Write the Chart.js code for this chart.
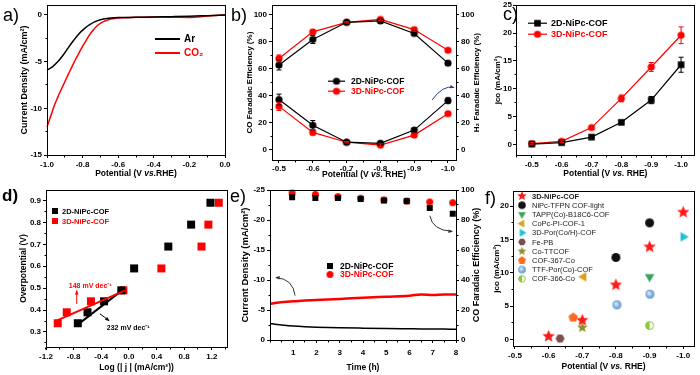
<!DOCTYPE html>
<html>
<head>
<meta charset="utf-8">
<script src="https://cdn.jsdelivr.net/npm/chart.js@4.4.0/dist/chart.umd.min.js"></script>
<style>
  body { margin: 0; background: #fff; }
  #wrap { position: relative; width: 700px; height: 375px; background: #fff; overflow: hidden; }
  canvas { position: absolute; }
  .lab { position: absolute; font: 18px "Liberation Sans", Arial, sans-serif; line-height: 18px; color: #000; }
</style>
</head>
<body>
<div id="wrap">
  <canvas id="ca" width="232" height="190" style="left:0;top:0"></canvas>
  <canvas id="cb" width="258" height="190" style="left:232px;top:0"></canvas>
  <canvas id="cc" width="210" height="190" style="left:490px;top:0"></canvas>
  <canvas id="cd" width="232" height="190" style="left:0;top:185px"></canvas>
  <canvas id="ce" width="258" height="190" style="left:232px;top:185px"></canvas>
  <canvas id="cf" width="210" height="190" style="left:490px;top:185px"></canvas>
  <span class="lab" style="left:3px;top:6px">a)</span>
  <span class="lab" style="left:231px;top:6px">b)</span>
  <span class="lab" style="left:503px;top:5px">c)</span>
  <span class="lab" style="left:2px;top:187px;font-weight:bold;font-size:17px">d)</span>
  <span class="lab" style="left:230px;top:187px">e)</span>
  <span class="lab" style="left:485px;top:189px">f)</span>
</div>
<script>
const FONT = '"Liberation Sans", Arial, Helvetica, sans-serif';
const RED = '#ff0000';
const BLACK = '#000000';

// a) LSV curves
const lsvArV = [-1.0, -0.97, -0.94, -0.91, -0.88, -0.85, -0.82, -0.79, -0.76, -0.73, -0.70, -0.67, -0.64, -0.60, -0.50, -0.40, -0.30, -0.20, -0.10, 0.0];
const lsvArJ = [-5.91, -5.56, -5.02, -4.31, -3.49, -2.71, -2.00, -1.46, -1.03, -0.71, -0.50, -0.39, -0.32, -0.28, -0.25, -0.21, -0.18, -0.14, -0.07, 0.0];
const lsvCo2V = [-1.0, -0.98, -0.96, -0.94, -0.92, -0.90, -0.88, -0.86, -0.84, -0.82, -0.80, -0.78, -0.76, -0.74, -0.72, -0.70, -0.68, -0.66, -0.64, -0.60, -0.50, -0.40, -0.30, -0.20, -0.10, 0.0];
const lsvCo2J = [-11.97, -10.9, -9.76, -8.83, -7.98, -7.16, -6.34, -5.56, -4.77, -4.06, -3.35, -2.71, -2.10, -1.60, -1.18, -0.89, -0.68, -0.53, -0.43, -0.32, -0.25, -0.22, -0.24, -0.26, -0.12, 0.0];
const ticksAx = [-1.0, -0.8, -0.6, -0.4, -0.2, 0.0];
const ticksAy = [0, -5, -10, -15];

// b) Faradaic efficiency
const potB = [-0.5, -0.6, -0.7, -0.8, -0.9, -1.0];
const coFE2D = [62.7, 81.7, 94.4, 95.4, 86.1, 64.1];
const coFE3D = [67.6, 87.3, 94.4, 96.6, 89.0, 73.7];
const h2FE2D = [37.1, 18.0, 5.4, 4.6, 14.4, 36.3];
const h2FE3D = [32.0, 12.7, 5.4, 3.2, 10.7, 26.6];
const coErr2D = [3.7, 3.0, 1.0, 1.5, 1.5, 1.5];
const coErr3D = [2.5, 1.5, 0.5, 1.0, 1.5, 1.0];
const h2Err2D = [4.0, 3.5, 1.0, 1.5, 1.5, 2.0];
const h2Err3D = [3.0, 2.0, 0.5, 1.0, 1.5, 1.0];
const ticksFE = [0, 20, 40, 60, 80, 100];

// c) partial current density
const potC = [-0.5, -0.6, -0.7, -0.8, -0.9, -1.0];
const jco2D = [0.05, 0.3, 1.3, 3.95, 7.95, 14.3];
const jco3D = [0.12, 0.54, 3.0, 8.25, 13.9, 19.6];
const jcoErr2D = [0.2, 0.2, 0.3, 0.3, 0.65, 1.35];
const jcoErr3D = [0.2, 0.2, 0.3, 0.6, 0.8, 1.5];
const ticksCy = [0, 5, 10, 15, 20, 25];

// d) Tafel
const logJ2D = [-0.74, -0.60, -0.36, -0.11, 0.075, 0.57, 0.90, 1.18];
const logJ3D = [-1.03, -0.90, -0.55, -0.08, 0.47, 1.05, 1.15, 1.30];
const etaD = [0.34, 0.39, 0.44, 0.49, 0.59, 0.69, 0.79, 0.89];
const fit2DX = [-0.755, -0.10], fit2DY = [0.33, 0.49];
const fit3DX = [-1.045, -0.055], fit3DY = [0.352, 0.49];
const ticksDx = [-1.2, -0.8, -0.4, 0.0, 0.4, 0.8, 1.2];
const ticksDy = [0.3, 0.4, 0.5, 0.6, 0.7, 0.8, 0.9];

// e) stability
const timeLine = [0, 0.3, 0.6, 1, 1.5, 2, 3, 4, 5, 6, 6.5, 7, 7.5, 8];
const cd2D = [-2.75, -2.58, -2.46, -2.33, -2.22, -2.14, -2.04, -1.97, -1.91, -1.87, -1.85, -1.84, -1.82, -1.80];
const cd3D = [-6.0, -6.2, -6.35, -6.45, -6.57, -6.67, -6.84, -7.06, -7.22, -7.38, -7.6, -7.5, -7.6, -7.6];
const timeFE = [0.95, 1.95, 2.92, 3.9, 4.9, 5.88, 6.87, 7.86];
const fe2D = [95.2, 94.7, 94.7, 94.0, 93.0, 92.6, 88.0, 84.2];
const fe3D = [98.0, 97.0, 95.6, 94.5, 93.4, 92.6, 92.0, 91.5];
const ticksEx = [1, 2, 3, 4, 5, 6, 7, 8];
const ticksEy = [-25, -20, -15, -10, -5, 0];

// f) comparison
const fLabels = ['3D-NiPc-COF', 'NiPc-TFPN COF-light', 'TAPP(Co)-B18C6-COF', 'CoPc-PI-COF-1', '3D-Por(Co/H)-COF', 'Fe-PB', 'Co-TTCOF', 'COF-367-Co', 'TTF-Por(Co)-COF', 'COF-366-Co'];
const fNiPcV = [-0.6, -0.7, -0.8, -0.9, -1.0], fNiPcJ = [0.48, 2.9, 8.2, 13.9, 19.1];
const fTfpnV = [-0.8, -0.9], fTfpnJ = [12.3, 17.5];
const fTappV = [-0.9], fTappJ = [9.4];
const fCopcV = [-0.704], fCopcJ = [9.4];
const fPorV = [-1.0], fPorJ = [15.4];
const fFepbV = [-0.634], fFepbJ = [0.15];
const fTtcofV = [-0.7], fTtcofJ = [1.8];
const f367V = [-0.673], f367J = [3.3];
const fTtfV = [-0.803, -0.901], fTtfJ = [5.2, 6.8];
const f366V = [-0.9], f366J = [2.1];
const ticksFx = [-0.5, -0.6, -0.7, -0.8, -0.9, -1.0];
const ticksFy = [0, 5, 10, 15, 20];

const pts = (xs, ys) => xs.map((x, i) => ({ x, y: ys[i] }));
const f1 = v => v.toFixed(1);
const f0 = v => String(v);

// small canvases used as point styles
function marker(shape, color, r) {
  const s = Math.ceil(2 * r + 2), c = document.createElement('canvas');
  c.width = c.height = s;
  const g = c.getContext('2d');
  g.translate(s / 2, s / 2);
  g.fillStyle = color; g.strokeStyle = color; g.lineWidth = 1;
  const poly = (n, rot, inner) => {
    const k = inner ? 2 * n : n;
    g.beginPath();
    for (let i = 0; i < k; i++) {
      const rr = inner && i % 2 ? inner : r, t = rot + i * Math.PI * 2 / k;
      g.lineTo(rr * Math.cos(t), rr * Math.sin(t));
    }
    g.closePath(); g.fill();
  };
  if (shape === 'circle') { g.beginPath(); g.arc(0, 0, r, 0, 2 * Math.PI); g.fill(); }
  else if (shape === 'square') g.fillRect(-r, -r, 2 * r, 2 * r);
  else if (shape === 'star') poly(5, -Math.PI / 2, r * 0.45);
  else if (shape === 'pentagon') poly(5, -Math.PI / 2);
  else if (shape === 'hexagon') poly(6, 0);
  else if (shape === 'triDown') poly(3, Math.PI / 2);
  else if (shape === 'triLeft') poly(3, Math.PI);
  else if (shape === 'triRight') poly(3, 0);
  else if (shape === 'ball') {
    const gr = g.createRadialGradient(-r * 0.3, -r * 0.3, 0, 0, 0, r);
    gr.addColorStop(0, '#eef5fd'); gr.addColorStop(1, color);
    g.fillStyle = gr; g.beginPath(); g.arc(0, 0, r, 0, 2 * Math.PI); g.fill();
  } else if (shape === 'half') {
    g.fillStyle = '#fff'; g.beginPath(); g.arc(0, 0, r - 0.5, 0, 2 * Math.PI); g.fill();
    g.fillStyle = color; g.beginPath(); g.arc(0, 0, r - 0.5, Math.PI / 2, Math.PI * 1.5); g.fill();
    g.beginPath(); g.arc(0, 0, r - 0.5, 0, 2 * Math.PI); g.stroke();
  }
  return c;
}

const mCircB = marker('circle', BLACK, 3.6), mCircR = marker('circle', RED, 3.6);
const mSqB = marker('square', BLACK, 3.3), mSqR = marker('square', RED, 3.3);
const mSqBd = marker('square', BLACK, 4), mSqRd = marker('square', RED, 4);
const mSqBs = marker('square', BLACK, 3), mSqRs = marker('square', RED, 3);
const mSqBe = marker('square', BLACK, 3), mCircRe = marker('circle', RED, 3.5);
const fMarkers = [
  marker('star', '#ff1a1a', 6.5), marker('circle', '#111111', 4.5), marker('triDown', '#3aa55d', 5.5),
  marker('triLeft', '#d9a21b', 5.5), marker('triRight', '#19c3d6', 5.5), marker('hexagon', '#7d4e4e', 4.5),
  marker('star', '#8f8f2b', 5.5), marker('pentagon', '#ff6b1a', 5), marker('ball', '#4f8fd0', 4.5),
  marker('half', '#8cc63f', 4.5)
];
const fLegendMarkers = [
  marker('star', '#ff1a1a', 5), marker('circle', '#111111', 3.8), marker('triDown', '#3aa55d', 4.5),
  marker('triLeft', '#d9a21b', 4.5), marker('triRight', '#19c3d6', 4.5), marker('hexagon', '#7d4e4e', 3.8),
  marker('star', '#8f8f2b', 4.5), marker('pentagon', '#ff6b1a', 4.2), marker('ball', '#4f8fd0', 3.8),
  marker('half', '#8cc63f', 3.8)
];

function fit(size) {
  return s => {
    if (s.isHorizontal()) s.height = size; else s.width = size;
    s.paddingLeft = s.paddingRight = s.paddingTop = s.paddingBottom = 0;
  };
}

function axis(min, max, ticks, fmt, size, extra, pad) {
  return Object.assign({
    type: 'linear', min, max,
    afterBuildTicks: s => { s.ticks = ticks.map(v => ({ value: v })); },
    afterFit: fit(size),
    grid: { drawOnChartArea: false, drawTicks: true, tickLength: 3, color: '#000', lineWidth: 1 },
    border: { display: false },
    ticks: { color: '#000', font: { family: FONT, size: 8, weight: 'bold' }, padding: pad == null ? 2 : pad, maxRotation: 0, autoSkip: false, callback: fmt }
  }, extra);
}

function lineDs(xs, ys, color, w, extra) {
  return Object.assign({ data: pts(xs, ys), showLine: true, borderColor: color, backgroundColor: color, borderWidth: w, pointRadius: 0, tension: 0, clip: false }, extra);
}
function markDs(xs, ys, m, color, extra) {
  return Object.assign({ data: pts(xs, ys), pointStyle: m, pointRadius: 4, borderColor: color, backgroundColor: color, clip: false }, extra);
}

function rich(ctx, text, size, weight) {
  const parts = text.split('_');
  const fonts = parts.map((p, i) => (i % 2 ? 'italic ' : '') + (weight || 'bold') + ' ' + size + 'px ' + FONT);
  let w = 0;
  parts.forEach((p, i) => { ctx.font = fonts[i]; w += ctx.measureText(p).width; });
  let x = -w / 2;
  ctx.textBaseline = 'middle'; ctx.textAlign = 'left';
  parts.forEach((p, i) => { ctx.font = fonts[i]; ctx.fillText(p, x, 0); x += ctx.measureText(p).width; });
}

function arrow(ctx, chart, ys, p0, c, p1, color, lw) {
  const X = v => chart.scales.x.getPixelForValue(v), Y = v => chart.scales[ys].getPixelForValue(v);
  const x0 = X(p0[0]), y0 = Y(p0[1]), cx = X(c[0]), cy = Y(c[1]), x1 = X(p1[0]), y1 = Y(p1[1]);
  ctx.strokeStyle = color; ctx.fillStyle = color; ctx.lineWidth = lw;
  ctx.beginPath(); ctx.moveTo(x0, y0); ctx.quadraticCurveTo(cx, cy, x1, y1); ctx.stroke();
  const a = Math.atan2(y1 - cy, x1 - cx), h = 4;
  ctx.beginPath();
  ctx.moveTo(x1 + Math.cos(a) * 1, y1 + Math.sin(a) * 1);
  ctx.lineTo(x1 - h * Math.cos(a - 0.45), y1 - h * Math.sin(a - 0.45));
  ctx.lineTo(x1 - h * Math.cos(a + 0.45), y1 - h * Math.sin(a + 0.45));
  ctx.closePath(); ctx.fill();
}

const errorBars = {
  id: 'errorBars',
  afterDatasetsDraw(chart) {
    const ctx = chart.ctx;
    chart.data.datasets.forEach((ds, i) => {
      if (!ds.errors) return;
      const meta = chart.getDatasetMeta(i), ys = chart.scales[meta.yAxisID];
      ctx.save();
      ctx.strokeStyle = ds.borderColor; ctx.lineWidth = 1;
      meta.data.forEach((p, j) => {
        const e = ds.errors[j], v = ds.data[j].y;
        const y1 = ys.getPixelForValue(v + e), y2 = ys.getPixelForValue(v - e);
        ctx.beginPath();
        ctx.moveTo(p.x, y1); ctx.lineTo(p.x, y2);
        ctx.moveTo(p.x - 2.5, y1); ctx.lineTo(p.x + 2.5, y1);
        ctx.moveTo(p.x - 2.5, y2); ctx.lineTo(p.x + 2.5, y2);
        ctx.stroke();
      });
      ctx.restore();
    });
  }
};

// frame, minor ticks, axis titles, legend and notes
function deco(cfg) {
  return {
    id: 'deco',
    afterDraw(chart) {
      const ctx = chart.ctx, a = chart.chartArea;
      const px = v => Math.round(v - 0.5) + 0.5;
      ctx.save();
      ctx.strokeStyle = '#000'; ctx.lineWidth = 1;
      ctx.strokeRect(px(a.left), px(a.top), px(a.right) - px(a.left), px(a.bottom) - px(a.top));
      (cfg.minor || []).forEach(([id, step]) => {
        const s = chart.scales[id];
        const lo = Math.min(s.min, s.max), hi = Math.max(s.min, s.max);
        for (let k = Math.ceil(lo / step - 1e-6); k * step <= hi + 1e-9; k++) {
          const p = px(s.getPixelForValue(k * step));
          ctx.beginPath();
          if (s.isHorizontal()) { ctx.moveTo(p, px(a.bottom)); ctx.lineTo(p, px(a.bottom) + 2); }
          else if (s.position === 'right') { ctx.moveTo(px(a.right), p); ctx.lineTo(px(a.right) + 2, p); }
          else { ctx.moveTo(px(a.left), p); ctx.lineTo(px(a.left) - 2, p); }
          ctx.stroke();
        }
      });
      ctx.fillStyle = '#000';
      (cfg.titles || []).forEach(t => {
        ctx.save();
        if (t.pos === 'bottom') ctx.translate((a.left + a.right) / 2, a.bottom + t.off);
        else {
          ctx.translate(t.pos === 'left' ? a.left - t.off : a.right + t.off, (a.top + a.bottom) / 2);
          ctx.rotate(-Math.PI / 2);
        }
        rich(ctx, t.text, t.size);
        ctx.restore();
      });
      const L = cfg.legend;
      if (L) {
        L.items.forEach((it, i) => {
          const x0 = a.left + L.x, y0 = a.top + L.y + i * L.dy;
          if (it.line) {
            ctx.strokeStyle = it.color; ctx.lineWidth = L.lw || 1.2;
            ctx.beginPath(); ctx.moveTo(x0, y0); ctx.lineTo(x0 + L.len, y0); ctx.stroke();
          }
          if (it.marker) ctx.drawImage(it.marker, x0 + L.len / 2 - it.marker.width / 2, y0 - it.marker.height / 2);
          ctx.fillStyle = it.text || it.color;
          ctx.font = (it.bold === false ? 'normal ' : 'bold ') + L.size + 'px ' + FONT;
          ctx.textBaseline = 'middle'; ctx.textAlign = 'left';
          ctx.fillText(it.label, x0 + L.len + L.gap, y0 + 0.5);
        });
      }
      if (cfg.notes) cfg.notes(ctx, chart);
      ctx.restore();
    }
  };
}

function make(id, datasets, scales, cfg) {
  return new Chart(document.getElementById(id), {
    type: 'scatter',
    data: { datasets },
    options: {
      responsive: false, animation: false, devicePixelRatio: 1,
      layout: { padding: cfg.pad },
      plugins: { legend: { display: false }, tooltip: { enabled: false } },
      scales
    },
    plugins: [errorBars, deco(cfg)]
  });
}

// a)
make('ca', [
  lineDs(lsvArV, lsvArJ, BLACK, 1.5, { cubicInterpolationMode: 'monotone' }),
  lineDs(lsvCo2V, lsvCo2J, RED, 1.5, { cubicInterpolationMode: 'monotone' })
], {
  x: axis(-1.0, 0.0, ticksAx, f1, 35, { position: 'bottom' }),
  y: axis(-15, 1.07, ticksAy, f0, 47, { position: 'left' })
}, {
  pad: { top: 5, right: 7, left: 0, bottom: 0 },
  minor: [['x', 0.1], ['y', 2.5]],
  titles: [
    { pos: 'bottom', off: 19, size: 8.5, text: 'Potential (V _vs._RHE)' },
    { pos: 'left', off: 22, size: 9, text: 'Current Density (mA/cm²)' }
  ],
  legend: { x: 108, y: 34, dy: 14, len: 25, gap: 4, size: 10, lw: 2, items: [
    { label: 'Ar', color: BLACK, line: true },
    { label: 'CO₂', color: RED, line: true }
  ] }
});

// b)
make('cb', [
  markDs(potB, coFE2D, mCircB, BLACK, { showLine: true, borderWidth: 1.2, errors: coErr2D }),
  markDs(potB, h2FE2D, mCircB, BLACK, { showLine: true, borderWidth: 1.2, errors: h2Err2D }),
  markDs(potB, coFE3D, mCircR, RED, { showLine: true, borderWidth: 1.2, errors: coErr3D }),
  markDs(potB, h2FE3D, mCircR, RED, { showLine: true, borderWidth: 1.2, errors: h2Err3D })
], {
  x: axis(-1.0237, -0.4793, potB, f1, 30, { position: 'bottom', reverse: true }, 1),
  y: axis(-7.8, 107.1, ticksFE, f0, 40, { position: 'left' }),
  y2: axis(-7.8, 107.1, ticksFE, f0, 34, { position: 'right' })
}, {
  pad: { top: 3, right: 0, left: 0, bottom: 0 },
  minor: [['x', 0.05], ['y', 10], ['y2', 10]],
  titles: [
    { pos: 'bottom', off: 15, size: 8.5, text: 'Potential (V _vs._ RHE)' },
    { pos: 'left', off: 22, size: 8, text: 'CO Faradaic Efficiency (%)' },
    { pos: 'right', off: 21, size: 8, text: 'H₂ Faradaic Efficiency (%)' }
  ],
  legend: { x: 56, y: 76, dy: 10, len: 17, gap: 6, size: 8.5, items: [
    { label: '2D-NiPc-COF', color: BLACK, line: true, marker: mCircB },
    { label: '3D-NiPc-COF', color: RED, line: true, marker: mCircR }
  ] },
  notes: (ctx, chart) => arrow(ctx, chart, 'y', [-0.953, 36.8], [-0.985, 48], [-1.017, 46], '#2b3990', 1)
});

// c)
make('cc', [
  markDs(potC, jco2D, mSqB, BLACK, { showLine: true, borderWidth: 1.2, errors: jcoErr2D }),
  markDs(potC, jco3D, mCircR, RED, { showLine: true, borderWidth: 1.2, errors: jcoErr3D })
], {
  x: axis(-1.046, -0.447, potC, f1, 35, { position: 'bottom', reverse: true }),
  y: axis(-1.92, 25, ticksCy, f0, 26, { position: 'left' }, 1)
}, {
  pad: { top: 5, right: 3, left: 0, bottom: 0 },
  minor: [['x', 0.05], ['y', 2.5]],
  titles: [
    { pos: 'bottom', off: 19, size: 8.5, text: 'Potential (V _vs._ RHE)' },
    { pos: 'left', off: 18, size: 8, text: 'jco (mA/cm²)' }
  ],
  legend: { x: 12, y: 18, dy: 11, len: 19, gap: 4, size: 9, items: [
    { label: '2D-NiPc-COF', color: BLACK, line: true, marker: mSqB },
    { label: '3D-NiPc-COF', color: RED, line: true, marker: mCircR }
  ] }
});

// d)
make('cd', [
  lineDs(fit3DX, fit3DY, RED, 2),
  lineDs(fit2DX, fit2DY, BLACK, 2),
  markDs(logJ2D, etaD, mSqBd, BLACK),
  markDs(logJ3D, etaD, mSqRd, RED)
], {
  x: axis(-1.2, 1.42, ticksDx, f1, 28, { position: 'bottom' }),
  y: axis(0.2314, 0.948, ticksDy, f1, 46, { position: 'left' })
}, {
  pad: { top: 2, right: 5, left: 0, bottom: 0 },
  minor: [['x', 0.2], ['y', 0.05]],
  titles: [
    { pos: 'bottom', off: 21, size: 8.5, text: 'Log (| j | (mA/cm²))' },
    { pos: 'left', off: 22, size: 8.5, text: 'Overpotential (V)' }
  ],
  legend: { x: 9, y: 21, dy: 10, len: 0, gap: 7, size: 7.5, items: [
    { label: '2D-NiPc-COF', color: BLACK, text: BLACK, marker: mSqBs },
    { label: '3D-NiPc-COF', color: RED, marker: mSqRs }
  ] },
  notes: (ctx, chart) => {
    const X = v => chart.scales.x.getPixelForValue(v), Y = v => chart.scales.y.getPixelForValue(v);
    ctx.font = 'bold 7px ' + FONT; ctx.textBaseline = 'middle'; ctx.textAlign = 'left';
    ctx.fillStyle = RED; ctx.fillText('148 mV dec⁻¹', X(-0.87), Y(0.51));
    ctx.fillStyle = BLACK; ctx.fillText('232 mV dec⁻¹', X(-0.32), Y(0.32));
    arrow(ctx, chart, 'y', [-0.755, 0.428], [-0.755, 0.457], [-0.755, 0.488], RED, 1);
    arrow(ctx, chart, 'y', [-0.42, 0.383], [-0.355, 0.368], [-0.29, 0.352], BLACK, 1);
  }
});

// e)
make('ce', [
  lineDs(timeLine, cd2D, BLACK, 1.5, { cubicInterpolationMode: 'monotone' }),
  lineDs(timeLine, cd3D, RED, 2.5, { cubicInterpolationMode: 'monotone' }),
  markDs(timeFE, fe2D, mSqBe, BLACK, { yAxisID: 'y2' }),
  markDs(timeFE, fe3D, mCircRe, RED, { yAxisID: 'y2' })
], {
  x: axis(0, 8, ticksEx, f0, 35, { position: 'bottom' }, 5),
  y: axis(-25, 0, ticksEy, f0, 38, { position: 'left', reverse: true }),
  y2: axis(0, 100, ticksFE, f0, 34, { position: 'right' })
}, {
  pad: { top: 3, right: 0, left: 0, bottom: 0 },
  minor: [['x', 0.5], ['y', 2.5], ['y2', 10]],
  titles: [
    { pos: 'bottom', off: 28, size: 8.5, text: 'Time (h)' },
    { pos: 'left', off: 25, size: 9.5, text: 'Current Density (mA/cm²)' },
    { pos: 'right', off: 21, size: 9, text: 'CO Faradaic Efficiency (%)' }
  ],
  legend: { x: 60, y: 76, dy: 8.5, len: 0, gap: 10, size: 8.5, items: [
    { label: '2D-NiPc-COF', color: BLACK, marker: mSqBe },
    { label: '3D-NiPc-COF', color: RED, marker: mCircRe }
  ] },
  notes: (ctx, chart) => {
    arrow(ctx, chart, 'y', [1.08, -7.4], [0.99, -10.2], [0.26, -10.4], '#333', 1);
    arrow(ctx, chart, 'y', [6.88, -20.7], [6.97, -18.3], [7.83, -18.1], '#333', 1);
  }
});

// f)
const fData = [
  [fNiPcV, fNiPcJ], [fTfpnV, fTfpnJ], [fTappV, fTappJ], [fCopcV, fCopcJ], [fPorV, fPorJ],
  [fFepbV, fFepbJ], [fTtcofV, fTtcofJ], [f367V, f367J], [fTtfV, fTtfJ], [f366V, f366J]
];
make('cf', fData.map((d, i) => markDs(d[0], d[1], fMarkers[i], '#000', { pointRadius: 5 })).reverse(), {
  x: axis(-1.032, -0.4942, ticksFx, f1, 29, { position: 'bottom', reverse: true }),
  y: axis(-0.97, 22.27, ticksFy, f0, 23, { position: 'left' }, 1)
}, {
  pad: { top: 1, right: 2, left: 0, bottom: 0 },
  minor: [['x', 0.05], ['y', 2.5]],
  titles: [
    { pos: 'bottom', off: 21, size: 8.5, text: 'Potential (V _vs._ RHE)' },
    { pos: 'left', off: 16, size: 8, text: 'jco (mA/cm²)' }
  ],
  legend: { x: 9, y: 5, dy: 9.2, len: 0, gap: 10, size: 7.5, items: fLabels.map((l, i) => (
    { label: l, color: '#222', marker: fLegendMarkers[i], bold: i === 0 }
  )) }
});
</script>
</body>
</html>
